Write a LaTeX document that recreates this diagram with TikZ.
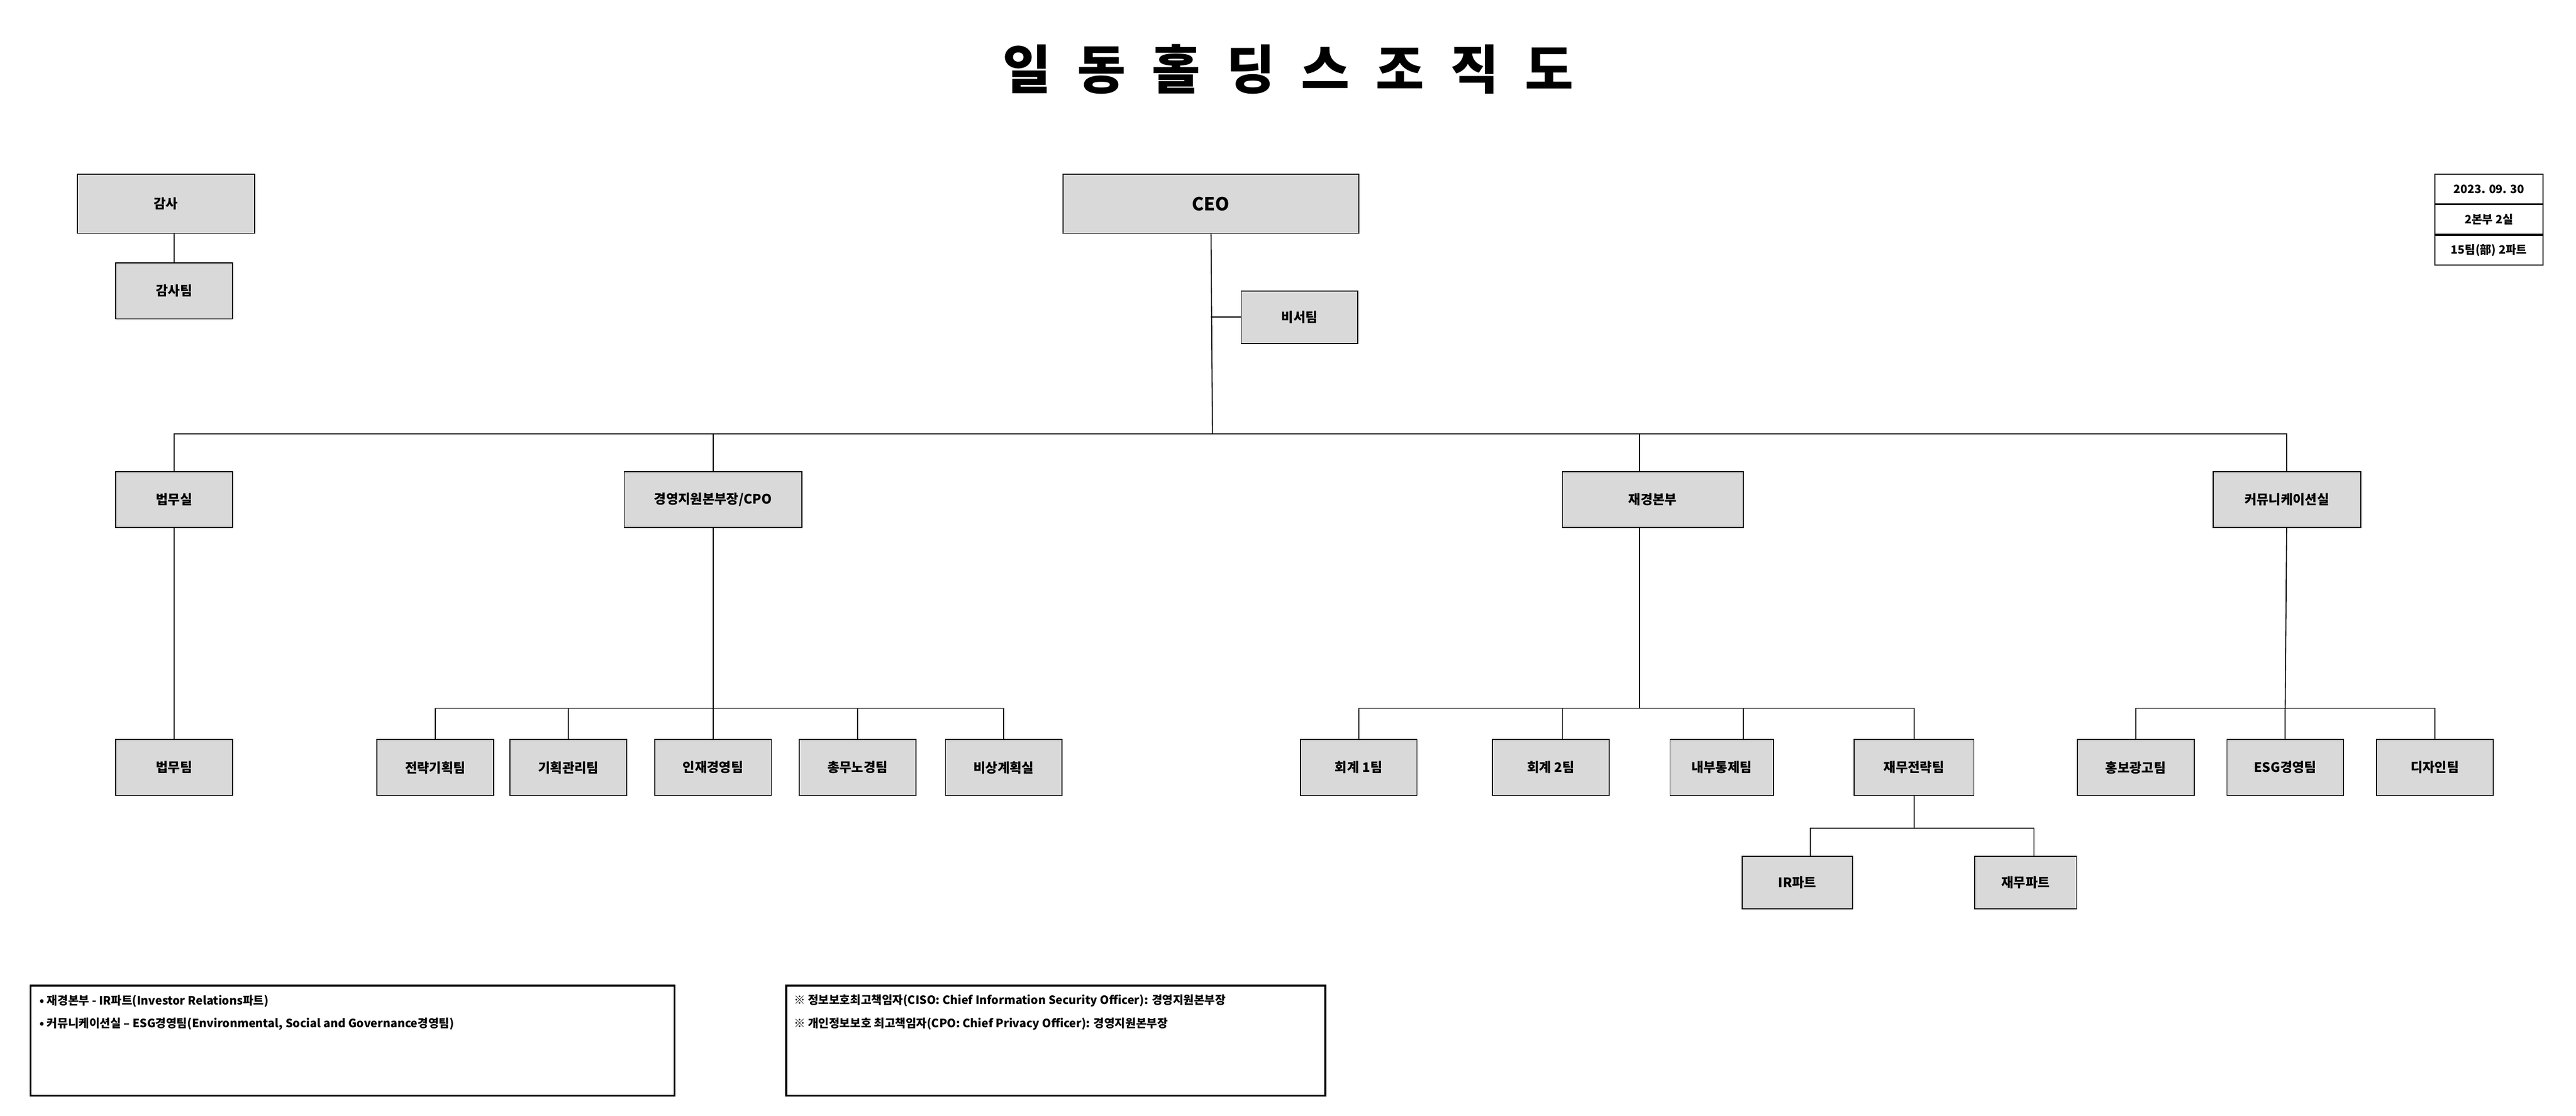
\documentclass[tikz,border=0pt]{standalone}
\usepackage{fontspec}
\setmainfont{Noto Sans CJK KR}
\usetikzlibrary{positioning}
\definecolor{boxgray}{HTML}{D9D9D9}
\tikzset{
  unit/.style={draw, fill=boxgray, line width=0.6pt, minimum width=71pt, minimum height=34pt, font=\bfseries\fontsize{8}{9}\selectfont, inner sep=1pt},
  wide/.style={unit, minimum width=108pt},
  link/.style={line width=0.6pt},
  note/.style={draw, line width=1.2pt, anchor=north west, minimum height=67pt},
  notetext/.style={anchor=west, font=\bfseries\fontsize{7}{8}\selectfont, inner sep=0pt}
}
\begin{document}
\begin{tikzpicture}[x=1pt,y=-1pt]
  \useasboundingbox (0,0) rectangle (1568,679);

  \node[font=\bfseries\fontsize{32}{36}\selectfont] (title) at (784,42) {일\hspace{0.5em}동\hspace{0.5em}홀\hspace{0.5em}딩\hspace{0.5em}스\hspace{0.5em}조\hspace{0.5em}직\hspace{0.5em}도};

  % top level
  \node[wide, minimum height=36pt] (audit) at (101,124) {감사};
  \node[unit] (auditteam) at (106,177) {감사팀};
  \node[wide, minimum width=180pt, minimum height=36pt, font=\bfseries\fontsize{11}{12}\selectfont] (ceo) at (737,124) {CEO};
  \node[unit, minimum height=32pt] (secretary) at (791,193) {비서팀};
  \coordinate (hub) at (738,264);

  % date box
  \node[draw, line width=0.6pt, minimum width=66pt, minimum height=18pt, font=\bfseries\fontsize{7}{8}\selectfont, inner sep=0pt] (date) at (1515,115) {\raisebox{-3pt}{2023. 09. 30}};
  \node[draw, line width=0.6pt, minimum width=66pt, minimum height=18pt, font=\bfseries\fontsize{7}{8}\selectfont, inner sep=0pt, below=0pt of date] (count) {2본부 2실};
  \node[draw, line width=0.6pt, minimum width=66pt, minimum height=18pt, font=\bfseries\fontsize{7}{8}\selectfont, inner sep=0pt, below=0pt of count] (teams) {15팀(部) 2파트};

  % second level
  \node[unit] (legal) at (106,304) {법무실};
  \node[wide] (cpo) at (434,304) {경영지원본부장/CPO};
  \node[wide, minimum width=110pt] (finance) at (1006,304) {재경본부};
  \node[unit, minimum width=90pt] (comm) at (1392,304) {커뮤니케이션실};

  % third level
  \node[unit] (legalteam) at (106,467) {법무팀};
  \node[unit] (strategy) at (265,467) {전략기획팀};
  \node[unit] (planning) at (346,467) {기획관리팀};
  \node[unit] (hr) at (434,467) {인재경영팀};
  \node[unit] (general) at (522,467) {총무노경팀};
  \node[unit] (emergency) at (611,467) {비상계획실};
  \node[unit] (acc1) at (827,467) {회계 1팀};
  \node[unit] (acc2) at (944,467) {회계 2팀};
  \node[unit, minimum width=63pt] (control) at (1048,467) {내부통제팀};
  \node[unit, minimum width=73pt] (fstrategy) at (1165,467) {재무전략팀};
  \node[unit] (pr) at (1300,467) {홍보광고팀};
  \node[unit] (esg) at (1391,467) {ESG경영팀};
  \node[unit] (design) at (1482,467) {디자인팀};
  \node[unit, minimum width=67pt, minimum height=32pt] (ir) at (1094,537) {IR파트};
  \node[unit, minimum width=62pt, minimum height=32pt] (treasury) at (1233,537) {재무파트};

  % connectors
  \draw[link] (audit.south -| auditteam) -- (auditteam);
  \draw[link] (ceo) -- (hub);
  \draw[link] (secretary.west) -- (secretary.west -| ceo);
  \draw[link] (hub) -| (legal);
  \draw[link] (hub) -| (cpo);
  \draw[link] (hub) -| ([xshift=-8pt]finance.north);
  \draw[link] (hub) -| (comm);
  \draw[link] (legal) -- (legalteam);
  \draw[link] (cpo) -- (434,431);
  \foreach \t in {strategy,planning,hr,general,emergency}
    \draw[link] (434,431) -| (\t);
  \draw[link] ([xshift=-8pt]finance.south) -- (998,431);
  \foreach \t in {acc1,fstrategy}
    \draw[link] (998,431) -| (\t);
  \draw[link] (951,431) -- (acc2.north -| 951,0);
  \draw[link] (1061,431) -- (control.north -| 1061,0);
  \draw[link] (fstrategy) -- (1165,504);
  \draw[link] (1165,504) -| (1102,521);
  \draw[link] (1165,504) -| (1238,521);
  \draw[link] (comm) -- (1391,431);
  \foreach \t in {pr,esg,design}
    \draw[link] (1391,431) -| (\t);

  % notes
  \node[note, minimum width=392pt] (notea) at (18,599) {};
  \node[notetext] (notea1) at (24,609) {• 재경본부 - IR파트(Investor Relations파트)};
  \node[notetext] (notea2) at (24,623) {• 커뮤니케이션실 -- ESG경영팀(Environmental, Social and Governance경영팀)};
  \node[note, minimum width=328pt] (noteb) at (478,599) {};
  \node[notetext] (noteb1) at (483,609) {※ 정보보호최고책임자(CISO: Chief Information Security Officer): 경영지원본부장};
  \node[notetext] (noteb2) at (483,623) {※ 개인정보보호 최고책임자(CPO: Chief Privacy Officer): 경영지원본부장};
\end{tikzpicture}
\end{document}
